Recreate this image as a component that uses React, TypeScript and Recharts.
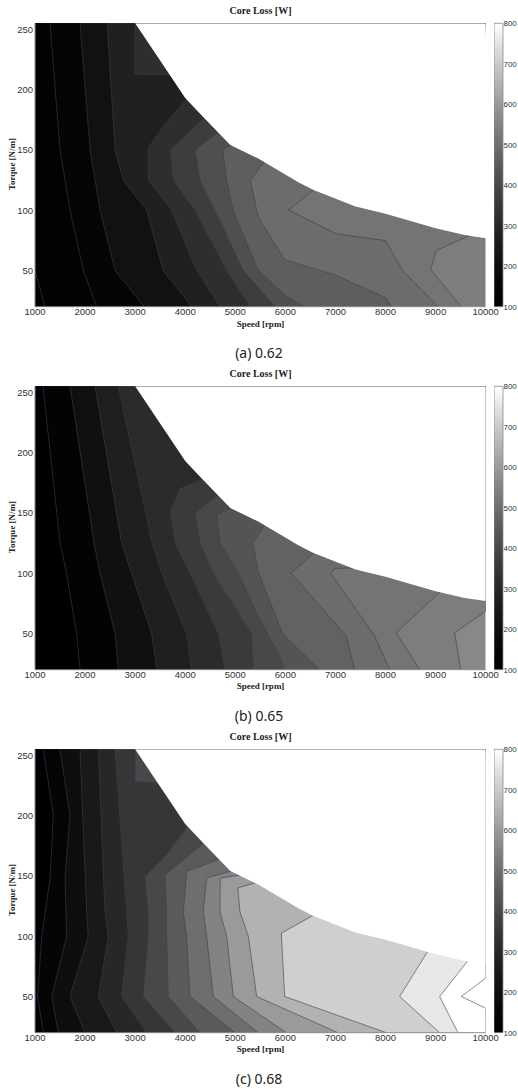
import { ComposedChart, Area, Bar, XAxis, YAxis } from 'recharts'

// every point is [torque N/m, speed rpm]
type Pt = [number, number]

const SPEED_TICKS = [1000, 2000, 3000, 4000, 5000, 6000, 7000, 8000, 9000, 10000]
const TORQUE_TICKS = [50, 100, 150, 200, 250]
const LOSS_TICKS = [100, 200, 300, 400, 500, 600, 700, 800]

// torque-speed limit of the machine (white above it), same in all three cases
const envelope: Pt[] = [
  [20, 10000], [77, 10000], [79.5, 9580], [85, 9000], [97, 8000], [103, 7400], [117, 6550],
  [123.5, 6250], [143, 5450], [154, 4900], [178.5, 4330], [193, 4000], [255, 3000],
]

// (a) 0.62 - level of each contour (the band to its right takes that level)
const levelsA = [125, 150, 215, 275, 325, 370, 420, 460, 495, 515, 535]
const linesA: Pt[][] = [
  [[20, 1200], [50, 1000], [255, 1000]],
  [[20, 2230], [50, 1966], [100, 1700], [150, 1500], [255, 1300]],
  [[20, 3180], [50, 2600], [100, 2300], [150, 2100], [255, 1900]],
  [[20, 4130], [50, 3560], [100, 3230], [125, 2760], [150, 2600], [255, 2440]],
  [[20, 4700], [50, 4230], [100, 3730], [125, 3263], [152, 3263], [173, 3630], [193, 4050], [205, 4300], [212, 3800], [213, 3000], [255, 3000]],
  [[20, 5300], [50, 4830], [100, 4195], [125, 3762], [150, 3700], [178, 4420], [255, 10000]],
  [[20, 5800], [50, 5160], [100, 4594], [125, 4295], [150, 4200], [166, 4700], [255, 10000]],
  [[20, 6385], [28.5, 6018], [50.6, 5453], [100, 4954], [125, 4828], [150, 4750], [155, 4950], [255, 10000]],
  [[20, 8115], [27.2, 8015], [46.5, 6985], [58.9, 5986], [94.7, 5453], [125, 5300], [141, 5600], [255, 10000]],
  [[20, 9048], [50.6, 8329], [74.8, 8003], [80.4, 7017], [100.2, 6066], [118, 6600], [255, 10000]],
  [[20, 9513], [50.6, 8902], [66.6, 9014], [79.5, 9700], [255, 10000]],
]

// (b) 0.65
const levelsB = [135, 210, 270, 315, 360, 400, 435, 470, 495, 515, 535, 560]
const linesB: Pt[][] = [
  [[20, 1900], [50, 1830], [100, 1630], [125, 1500], [255, 1160]],
  [[20, 2664], [50, 2598], [100, 2298], [125, 2180], [255, 1700]],
  [[20, 3430], [50, 3330], [100, 2930], [125, 2730], [255, 2200]],
  [[20, 4129], [50, 4029], [100, 3530], [125, 3340], [255, 2664]],
  [[20, 4794], [50, 4661], [100, 4095], [125, 3800], [151, 3704], [170.3, 3904], [179, 4420], [255, 10000]],
  [[20, 5360], [50, 5327], [100, 4561], [125, 4300], [150, 4200], [166, 4700], [255, 10000]],
  [[20, 5986], [34.2, 5853], [64.4, 5453], [100, 5061], [125, 4694], [148.3, 4628], [155, 4960], [255, 10000]],
  [[20, 6685], [49.3, 5952], [101.5, 5453], [125, 5350], [141, 5600], [255, 10000]],
  [[20, 7384], [47.9, 7217], [100, 6118], [118, 6600], [255, 10000]],
  [[20, 8083], [47.9, 7783], [100, 6905], [104, 6985], [104.5, 7500], [255, 10000]],
  [[20, 8682], [50.6, 8215], [85, 9100], [255, 10000]],
  [[20, 9501], [50.6, 9381], [68.5, 10000], [255, 10000]],
]

// (c) 0.68
const levelsC = [150, 200, 250, 300, 350, 400, 450, 500, 550, 600, 650, 710, 755, 800, 850]
const linesC: Pt[][] = [
  [[20, 1166], [50, 1050], [100, 1133], [148, 1300], [200, 1366], [255, 1166]],
  [[20, 1466], [50, 1333], [100, 1633], [148, 1599], [200, 1699], [255, 1499]],
  [[20, 1999], [50, 1699], [100, 2065], [120, 2032], [255, 1899]],
  [[20, 2631], [50, 2264], [100, 2464], [120, 2398], [255, 2264]],
  [[20, 3230], [50, 2731], [100, 2863], [120, 2831], [255, 2598]],
  [[20, 3796], [50, 3162], [100, 3263], [120, 3263], [149.6, 3197], [167.6, 3630], [191, 4050], [210, 4300], [227, 3500], [228.4, 3000], [255, 3000]],
  [[20, 4295], [50, 3662], [100, 3630], [120, 3630], [151, 3596], [179, 4420], [255, 10000]],
  [[20, 4994], [50, 4095], [100, 4029], [120, 3962], [153.7, 4029], [164, 4700], [255, 10000]],
  [[20, 5453], [50, 4561], [100, 4428], [120, 4362], [148.2, 4428], [154.5, 4950], [255, 10000]],
  [[20, 6018], [50, 4960], [100, 4828], [120, 4694], [148.2, 4700], [151, 5150], [255, 10000]],
  [[20, 7050], [50, 5427], [100, 5260], [120, 5094], [140, 5050], [145, 5450], [255, 10000]],
  [[20, 8015], [50, 5986], [102.5, 5919], [118.3, 6600], [255, 10000]],
  [[20, 9081], [50, 8282], [88, 8850], [255, 10000]],
  [[20, 9447], [50, 9081], [80, 9650], [255, 10000]],
  [[20, 10000], [40.3, 10000], [50, 9513], [65.2, 10000], [255, 10000]],
]

const SANS = '"Liberation Sans", Arial, sans-serif'
const SERIF = '"Liberation Serif", "Times New Roman", serif'
const LINE = '#3a3a6a'
const FRAME = '#8a8a8a'

// gray colormap over 100..800 W, as it came out in the printed figure (dark end compressed)
const gray = (v: number) => {
  const f = Math.max(0, Math.min(1, (v - 100) / 700))
  const g = Math.round(255 * Math.pow(f, 1.5))
  return `rgb(${g},${g},${g})`
}
const rows = (pts: Pt[]) => pts.map(([t, s]) => ({ t, s }))
const whiteRows = envelope.filter(([t]) => t >= 77).map(([t, s]) => ({ t, s: [s, 10000] }))
const cbRows = [{ k: 'loss', v: [LOSS_TICKS[0], LOSS_TICKS[LOSS_TICKS.length - 1]] }]
const cbStops = Array.from({ length: 15 }, (_, i) => i / 14)

function ColorBar({ id }: { id: string }) {
  return (
    <div style={{ position: 'absolute', left: 493.7, top: 0 }}>
      <ComposedChart width={24.3} height={330} data={cbRows} barCategoryGap={0} margin={{ top: 23.3, right: 0, bottom: 23.3, left: 0 }}>
        <defs>
          <linearGradient id={id} x1="0" y1="1" x2="0" y2="0">
            {cbStops.map((f) => (
              <stop key={f} offset={f} stopColor={gray(100 + f * 700)} />
            ))}
          </linearGradient>
        </defs>
        <XAxis dataKey="k" type="category" hide />
        <YAxis orientation="right" type="number" domain={[100, 800]} ticks={LOSS_TICKS} interval={0} width={15.3}
          tickLine={false} tickSize={0} tickMargin={0.5} axisLine={false} tick={{ fontSize: 8, fill: '#333', fontFamily: SANS }} />
        <YAxis yAxisId="in" orientation="left" type="number" domain={[100, 800]} ticks={LOSS_TICKS} interval={0} allowDataOverflow
          width={0} mirror tick={false} tickSize={2.5} axisLine={false} stroke="#777" />
        <Bar dataKey="v" fill={`url(#${id})`} stroke={FRAME} strokeWidth={0.8} isAnimationActive={false} />
      </ComposedChart>
    </div>
  )
}

function Panel({ top, levels, lines, caption, id }: { top: number; levels: number[]; lines: Pt[][]; caption: string; id: string }) {
  const order = lines.map((_, i) => i).reverse()
  return (
    <div style={{ position: 'absolute', left: 0, top, width: 518, height: 362 }}>
      <div style={{ position: 'absolute', left: 0, width: 521, top: 5, textAlign: 'center', fontFamily: SERIF, fontWeight: 'bold', fontSize: 10, color: '#222' }}>
        Core Loss [W]
      </div>
      <div style={{ position: 'absolute', left: 0, top: 0 }}>
        <ComposedChart width={518} height={330} layout="vertical" margin={{ top: 23.3, right: 32.3, bottom: 0, left: 0 }}>
          <XAxis type="number" domain={[1000, 10000]} ticks={SPEED_TICKS} interval={0} allowDataOverflow height={23.3}
            tickLine={false} tickSize={2} tickMargin={0} stroke={FRAME} tick={{ fontSize: 9.5, fill: '#333', fontFamily: SANS }} />
          <XAxis xAxisId="top" orientation="top" type="number" domain={[1000, 10000]} ticks={SPEED_TICKS} interval={0} allowDataOverflow
            height={0} mirror tick={false} tickSize={4} stroke={FRAME} />
          <YAxis type="number" dataKey="t" domain={[20, 255]} ticks={TORQUE_TICKS} interval={0} allowDataOverflow reversed width={35}
            tickLine={false} tickSize={2} tickMargin={0} stroke={FRAME} tick={{ fontSize: 9.5, fill: '#333', fontFamily: SANS }} />
          <YAxis yAxisId="right" orientation="right" type="number" domain={[20, 255]} ticks={TORQUE_TICKS} interval={0} allowDataOverflow reversed
            width={0} mirror tick={false} tickSize={4} stroke={FRAME} />
          <Area data={rows(envelope)} dataKey="s" type="linear" fill={gray(levels[levels.length - 1])} fillOpacity={1}
            stroke="none" isAnimationActive={false} dot={false} activeDot={false} />
          {order.map((i) => (
            <Area key={i} data={rows(lines[i])} dataKey="s" type="linear" fill={gray(i === 0 ? 100 : levels[i - 1])} fillOpacity={1}
              stroke={LINE} strokeWidth={0.6} isAnimationActive={false} dot={false} activeDot={false} />
          ))}
          <Area data={whiteRows} dataKey="s" type="linear" fill="#fff" fillOpacity={1} stroke="none"
            isAnimationActive={false} dot={false} activeDot={false} />
        </ComposedChart>
      </div>
      <ColorBar id={`cb${id}`} />
      <div style={{ position: 'absolute', left: 0, width: 521, top: 319.5, lineHeight: '9px', textAlign: 'center', fontFamily: SERIF, fontWeight: 'bold', fontSize: 9, color: '#222' }}>
        Speed [rpm]
      </div>
      <div style={{ position: 'absolute', left: -38, top: 159, width: 100, textAlign: 'center', transform: 'rotate(-90deg)', fontFamily: SERIF, fontWeight: 'bold', fontSize: 9, color: '#222' }}>
        Torque [N/m]
      </div>
      <div style={{ position: 'absolute', left: 0, width: 518, top: 343, textAlign: 'center', fontFamily: '"Noto Sans", sans-serif', fontSize: 14, color: '#222' }}>
        {caption}
      </div>
    </div>
  )
}

export default function App() {
  return (
    <div style={{ position: 'absolute', left: 0, top: 0, width: 518, height: 1089, background: '#fff' }}>
      <Panel top={0} levels={levelsA} lines={linesA} caption="(a) 0.62" id="a" />
      <Panel top={362.5} levels={levelsB} lines={linesB} caption="(b) 0.65" id="b" />
      <Panel top={725.5} levels={levelsC} lines={linesC} caption="(c) 0.68" id="c" />
    </div>
  )
}
